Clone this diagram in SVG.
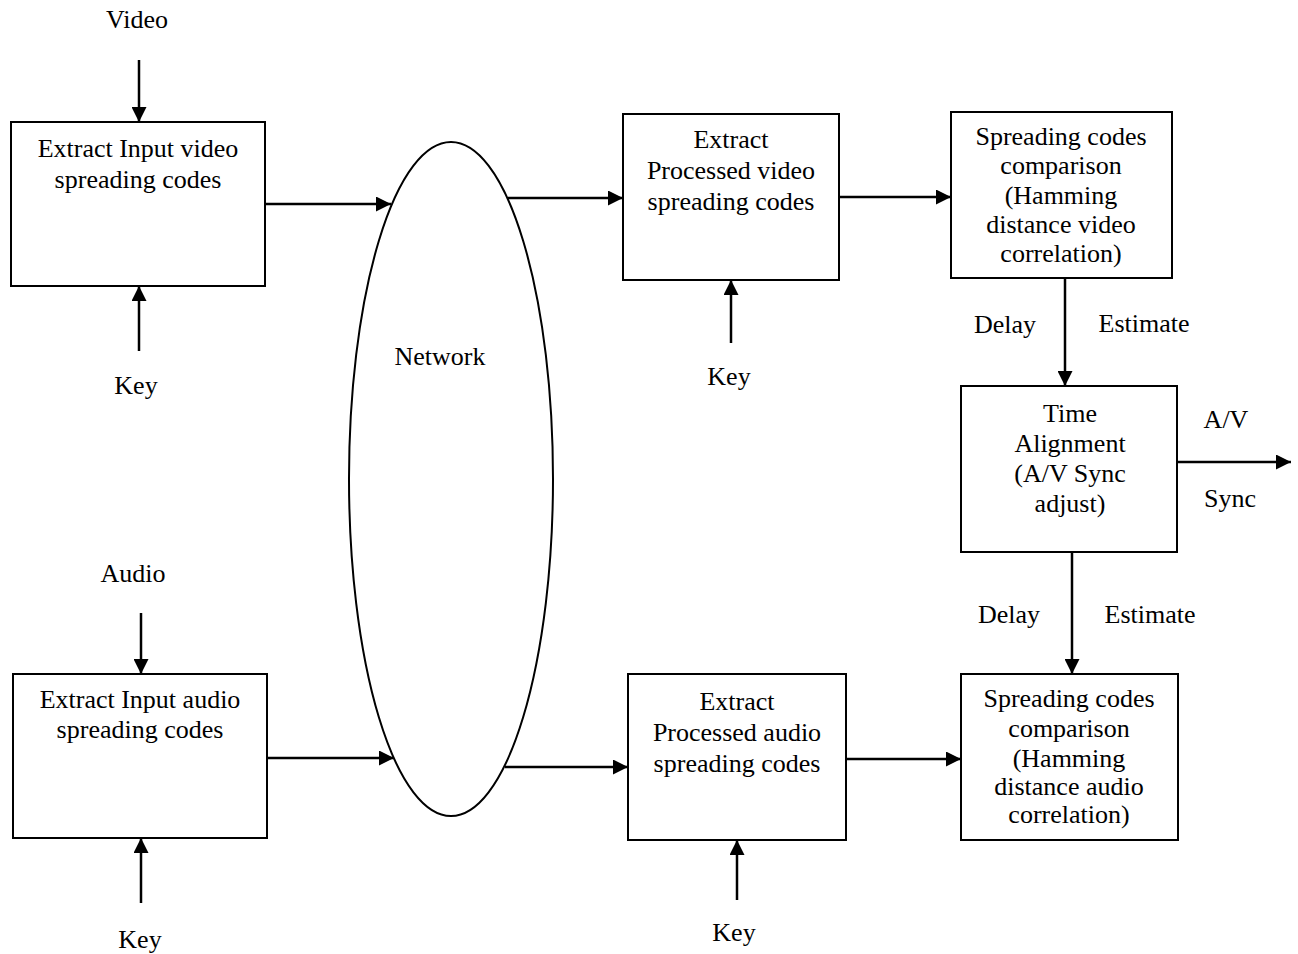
<svg xmlns="http://www.w3.org/2000/svg" width="1298" height="954" viewBox="0 0 1298 954">
<defs>
<marker id="ah" markerUnits="userSpaceOnUse" markerWidth="15" markerHeight="15" refX="15" refY="7.5" orient="auto">
<path d="M0,0 L15,7.5 L0,15 z" fill="#000"/>
</marker>
<style>
.box{fill:#fff;stroke:#000;stroke-width:2}
.t{font-family:"Liberation Serif","Times New Roman",serif;font-size:26px;fill:#000;text-anchor:middle}
.c{stroke:#000;stroke-width:2.5;fill:none;marker-end:url(#ah)}
</style>
</defs>
<rect width="1298" height="954" fill="#fff"/>
<g id="network">
<ellipse cx="451" cy="479" rx="102" ry="337" fill="#fff" stroke="#000" stroke-width="2"/>
<text class="t" x="440" y="365">Network</text>
</g>
<g id="extract-input-video">
<rect class="box" x="11" y="122" width="254" height="164"/>
<text class="t" x="138" y="157">Extract Input video</text>
<text class="t" x="138" y="188">spreading codes</text>
</g>
<g id="extract-processed-video">
<rect class="box" x="623" y="114" width="216" height="166"/>
<text class="t" x="731" y="148">Extract</text>
<text class="t" x="731" y="179">Processed video</text>
<text class="t" x="731" y="210">spreading codes</text>
</g>
<g id="compare-video">
<rect class="box" x="951" y="112" width="221" height="166"/>
<text class="t" x="1061" y="145">Spreading codes</text>
<text class="t" x="1061" y="174">comparison</text>
<text class="t" x="1061" y="204">(Hamming</text>
<text class="t" x="1061" y="233">distance video</text>
<text class="t" x="1061" y="262">correlation)</text>
</g>
<g id="time-alignment">
<rect class="box" x="961" y="386" width="216" height="166"/>
<text class="t" x="1070" y="422">Time</text>
<text class="t" x="1070" y="452">Alignment</text>
<text class="t" x="1070" y="482">(A/V Sync</text>
<text class="t" x="1070" y="512">adjust)</text>
</g>
<g id="compare-audio">
<rect class="box" x="961" y="674" width="217" height="166"/>
<text class="t" x="1069" y="707">Spreading codes</text>
<text class="t" x="1069" y="737">comparison</text>
<text class="t" x="1069" y="767">(Hamming</text>
<text class="t" x="1069" y="795">distance audio</text>
<text class="t" x="1069" y="823">correlation)</text>
</g>
<g id="extract-processed-audio">
<rect class="box" x="628" y="674" width="218" height="166"/>
<text class="t" x="737" y="710">Extract</text>
<text class="t" x="737" y="741">Processed audio</text>
<text class="t" x="737" y="772">spreading codes</text>
</g>
<g id="extract-input-audio">
<rect class="box" x="13" y="674" width="254" height="164"/>
<text class="t" x="140" y="708">Extract Input audio</text>
<text class="t" x="140" y="738">spreading codes</text>
</g>
<g id="labels">
<text class="t" x="137" y="28">Video</text>
<text class="t" x="136" y="394">Key</text>
<text class="t" x="133" y="582">Audio</text>
<text class="t" x="140" y="948">Key</text>
<text class="t" x="729" y="385">Key</text>
<text class="t" x="734" y="941">Key</text>
<text class="t" x="1005" y="333">Delay</text>
<text class="t" x="1144" y="332">Estimate</text>
<text class="t" x="1009" y="623">Delay</text>
<text class="t" x="1150" y="623">Estimate</text>
<text class="t" x="1226" y="428">A/V</text>
<text class="t" x="1230" y="507">Sync</text>
</g>
<g id="connectors">
<line class="c" x1="139" y1="60" x2="139" y2="122"/>
<line class="c" x1="139" y1="351" x2="139" y2="286"/>
<line class="c" x1="265" y1="204" x2="391" y2="204"/>
<line class="c" x1="508" y1="198" x2="623" y2="198"/>
<line class="c" x1="731" y1="343" x2="731" y2="280"/>
<line class="c" x1="839" y1="197" x2="951" y2="197"/>
<line class="c" x1="1065" y1="278" x2="1065" y2="386"/>
<line class="c" x1="1177" y1="462" x2="1291" y2="462"/>
<line class="c" x1="1072" y1="552" x2="1072" y2="674"/>
<line class="c" x1="846" y1="759" x2="961" y2="759"/>
<line class="c" x1="268" y1="758" x2="394" y2="758"/>
<line class="c" x1="505" y1="767" x2="628" y2="767"/>
<line class="c" x1="737" y1="900" x2="737" y2="840"/>
<line class="c" x1="141" y1="613" x2="141" y2="674"/>
<line class="c" x1="141" y1="903" x2="141" y2="838"/>
</g>
</svg>
